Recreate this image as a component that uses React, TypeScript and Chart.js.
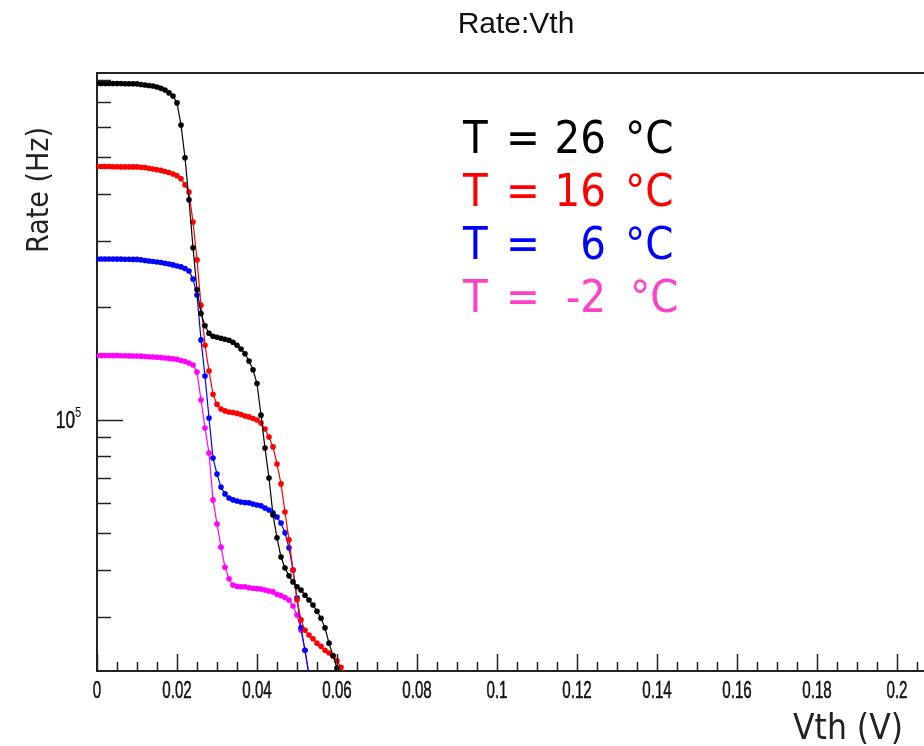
import React, { useEffect, useRef } from 'react';
import { Chart, registerables } from 'chart.js';

Chart.register(...registerables);

// Threshold voltage (V)
const vth = [
  0, 0.001, 0.002, 0.003, 0.004, 0.005, 0.006, 0.007, 0.008, 0.009,
  0.010, 0.011, 0.012, 0.013, 0.014, 0.015, 0.016, 0.017, 0.018, 0.019,
  0.020, 0.021, 0.022, 0.023, 0.024, 0.025, 0.026, 0.027, 0.028, 0.029,
  0.030, 0.031, 0.032, 0.033, 0.034, 0.035, 0.036, 0.037, 0.038, 0.039,
  0.040, 0.041, 0.042, 0.043, 0.044, 0.045, 0.046, 0.047, 0.048, 0.049,
  0.050, 0.051, 0.052, 0.053, 0.054, 0.055, 0.056, 0.057, 0.058, 0.059,
  0.060, 0.061, 0.062,
];

// Rate (Hz) at T = 26 °C
const rate26 = [
  785000, 785000, 785000, 785000, 785000, 784500, 784500, 784000, 784000, 783500,
  783000, 780000, 778000, 775000, 773000, 768000, 762000, 754000, 741000, 727000,
  697000, 609000, 498000, 385000, 287000, 222000, 192000, 178000, 170000, 167000,
  166000, 165000, 164000, 163000, 161000, 158000, 154500, 150000, 143500, 136000,
  125000, 103000, 84200, 70100, 55900, 48600, 43200, 40400, 38500, 37100,
  36000, 35300, 34200, 33200, 32200, 31000, 29700, 28000, 25500, 23600,
  21900, 20300, 19000,
];

// Rate (Hz) at T = 16 °C
const rate16 = [
  472000, 472000, 472000, 472000, 471500, 471500, 471000, 471000, 471000, 471000,
  471000, 470000, 469000, 467000, 465000, 463000, 461000, 458000, 455000, 451000,
  446000, 438000, 422000, 404000, 336000, 266500, 202000, 158000, 135000, 117000,
  110000, 107000, 105700, 105000, 104700, 104100, 103400, 102500, 101900, 100900,
  100000, 98200, 94600, 90100, 84800, 76400, 67600, 56900, 48000, 39900,
  33200, 29400, 27600, 26800, 26200, 25500, 25000, 24400, 24000, 23600,
  22900, 22000, 21200,
];

// Rate (Hz) at T = 6 °C
const rate6 = [
  268000, 268000, 268000, 268000, 268000, 267800, 267800, 267500, 267500, 267300,
  267300, 266500, 265500, 264800, 264000, 263200, 262400, 261200, 260000, 258500,
  256800, 255300, 252900, 249000, 237000, 215000, 163300, 130900, 101200, 79200,
  71800, 66300, 63600, 62000, 61300, 60900, 60500, 60300, 60200, 59800,
  59400, 59100, 58300, 57600, 56600, 55200, 53200, 50100, 45700, 39900,
  33600, 28000, 24400, 21000,
];

// Rate (Hz) at T = -2 °C
const rateM2 = [
  148400, 148400, 148400, 148400, 148300, 148300, 148200, 148200, 148100, 148000,
  148000, 147800, 147500, 147300, 147100, 146800, 146500, 146200, 145800, 145400,
  144900, 143900, 143100, 141800, 140000, 134200, 113000, 95200, 81700, 61300,
  52900, 45900, 40600, 37800, 36400, 36100, 36000, 36000, 35800, 35700,
  35600, 35500, 35300, 35100, 34900, 34400, 34100, 33700, 33200, 32000,
  30300, 27600, 24400, 21000,
];

const seriesLabels = ['T = 26 °C', 'T = 16 °C', 'T = 6 °C', 'T = -2 °C'];
const seriesTemps = ['26', '16', '6', '-2'];
const seriesColors = ['#000000', '#ff0000', '#0000ff', '#ff00ff'];
const legendColors = ['#000000', '#ff0000', '#0000ff', '#ff40c8'];

const xMin = 0;
const xMax = 0.22;
const xMinorStep = 0.005;
const xMajorStep = 0.02;
const yMin = 21500;
const yMax = 837000;
const yMinorTicks = [30000, 40000, 50000, 60000, 70000, 80000, 90000, 200000, 300000, 400000, 500000, 600000, 700000, 800000];
const yMajorTicks = [100000];

const titleText = 'Rate:Vth';
const xTitle = 'Vth (V)';
const yTitle = 'Rate (Hz)';

const isXMajor = (v: number) => Math.abs(v / xMajorStep - Math.round(v / xMajorStep)) < 1e-6;
const xLabelText = (v: number) => String(Math.round(v * 100) / 100);

const SANS = '"DejaVu Sans", Verdana, sans-serif';
const LIB = '"Liberation Sans", Arial, sans-serif';

const decorPlugin = {
  id: 'decor',
  afterDraw(chart: any) {
    const { ctx, chartArea, scales } = chart;
    const xs = scales.x;
    const ys = scales.y;
    ctx.save();
    // top frame
    ctx.strokeStyle = '#222';
    ctx.lineWidth = 2;
    ctx.beginPath();
    ctx.moveTo(chartArea.left - 1, chartArea.top);
    ctx.lineTo(chartArea.right, chartArea.top);
    ctx.stroke();

    // x tick marks (inside) and narrow labels
    ctx.lineWidth = 1.5;
    xs.ticks.forEach((t: any) => {
      const v = t.value;
      const xPix = xs.getPixelForValue(v);
      const px = Math.round(xPix) + 0.5;
      const major = isXMajor(v);
      const len = major ? 17 : 9;
      ctx.beginPath();
      ctx.moveTo(px, chartArea.bottom);
      ctx.lineTo(px, chartArea.bottom - len);
      ctx.stroke();
      if (major) {
        ctx.save();
        ctx.translate(xPix, chartArea.bottom + 27);
        ctx.scale(0.66, 1);
        ctx.fillStyle = '#111';
        ctx.strokeStyle = '#111';
        ctx.lineWidth = 0.5;
        ctx.textAlign = 'center';
        ctx.textBaseline = 'alphabetic';
        ctx.font = '23px ' + LIB;
        ctx.fillText(xLabelText(v), 0, 0);
        ctx.strokeText(xLabelText(v), 0, 0);
        ctx.restore();
      }
    });
    // y tick marks (inside)
    yMinorTicks.forEach((v) => {
      const py = Math.round(ys.getPixelForValue(v)) + 0.5;
      ctx.beginPath();
      ctx.moveTo(chartArea.left, py);
      ctx.lineTo(chartArea.left + 14, py);
      ctx.stroke();
    });
    yMajorTicks.forEach((v) => {
      const yPix = ys.getPixelForValue(v);
      const py = Math.round(yPix) + 0.5;
      ctx.beginPath();
      ctx.moveTo(chartArea.left, py);
      ctx.lineTo(chartArea.left + 26, py);
      ctx.stroke();
      // label 10^exp
      const exp = Math.round(Math.log10(v)).toString();
      ctx.fillStyle = '#111';
      ctx.strokeStyle = '#111';
      ctx.lineWidth = 0.5;
      ctx.textBaseline = 'alphabetic';
      ctx.save();
      ctx.translate(chartArea.left - 22, yPix + 8);
      ctx.scale(0.75, 1);
      ctx.textAlign = 'right';
      ctx.font = '23px ' + LIB;
      ctx.fillText('10', 0, 0);
      ctx.strokeText('10', 0, 0);
      ctx.restore();
      ctx.save();
      ctx.translate(chartArea.left - 22, yPix - 3);
      ctx.scale(0.8, 1);
      ctx.textAlign = 'left';
      ctx.font = '14px ' + LIB;
      ctx.fillText(exp, 0, 0);
      ctx.restore();
    });

    // title
    ctx.fillStyle = '#111';
    ctx.textAlign = 'center';
    ctx.textBaseline = 'alphabetic';
    ctx.font = '30px ' + LIB;
    ctx.fillText(titleText, 516, 33);

    // axis titles (slightly condensed Verdana-like face)
    ctx.fillStyle = '#222';
    ctx.save();
    ctx.translate(903, 739);
    ctx.scale(0.9, 1);
    ctx.textAlign = 'right';
    ctx.font = '35px ' + SANS;
    ctx.fillText(xTitle, 0, 0);
    ctx.restore();

    ctx.save();
    ctx.translate(48, 190);
    ctx.rotate(-Math.PI / 2);
    ctx.scale(0.9, 1);
    ctx.textAlign = 'center';
    ctx.font = '30px ' + SANS;
    ctx.fillText(yTitle, 0, 0);
    ctx.restore();

    // legend text
    const baselines = [153, 206, 259, 312];
    seriesTemps.forEach((temp, i) => {
      const y = baselines[i];
      ctx.fillStyle = legendColors[i];
      const piece = (txt: string, x: number, align: string) => {
        ctx.save();
        ctx.translate(x, y);
        ctx.scale(0.92, 1);
        ctx.textAlign = align;
        ctx.font = '44px ' + SANS;
        ctx.fillText(txt, 0, 0);
        ctx.restore();
      };
      piece('T', 463, 'left');
      piece('=', 523, 'center');
      piece(temp, 606, 'right');
      piece('°C', i === 3 ? 630 : 625, 'left');
    });
    ctx.restore();
  },
};

export default function App() {
  const canvasRef = useRef<HTMLCanvasElement | null>(null);

  useEffect(() => {
    const canvas = canvasRef.current;
    if (!canvas) return;
    const seriesValues = [rate26, rate16, rate6, rateM2];
    const datasets = seriesValues.map((vals, i) => ({
      label: seriesLabels[i],
      data: vals.map((y, k) => ({ x: vth[k], y })),
      borderColor: seriesColors[i],
      backgroundColor: seriesColors[i],
      pointBackgroundColor: seriesColors[i],
      pointBorderWidth: 0,
      pointRadius: 2.8,
      pointHoverRadius: 2.8,
      borderWidth: 1.2,
      tension: 0,
      fill: false,
    }));

    const chart = new Chart(canvas, {
      type: 'line',
      data: { datasets },
      options: {
        animation: false,
        responsive: false,
        maintainAspectRatio: false,
        devicePixelRatio: 1,
        layout: { padding: { top: 73, right: 23, left: 0, bottom: 0 } },
        plugins: {
          legend: { display: false },
          tooltip: { enabled: false },
          title: { display: false },
        },
        events: [],
        scales: {
          x: {
            type: 'linear',
            min: xMin,
            max: xMax,
            grid: { display: false, drawTicks: false },
            border: { display: true, color: '#222', width: 2 },
            ticks: {
              display: false,
              stepSize: xMinorStep,
              autoSkip: false,
              maxRotation: 0,
            },
            afterFit: (scale: any) => {
              scale.height = 75;
            },
          },
          y: {
            type: 'logarithmic',
            min: yMin,
            max: yMax,
            grid: { display: false, drawTicks: false },
            border: { display: true, color: '#222', width: 2 },
            ticks: { display: false },
            afterFit: (scale: any) => {
              scale.width = 97;
            },
          },
        },
      },
      plugins: [decorPlugin],
    });
    return () => chart.destroy();
  }, []);

  return (
    <div
      style={{
        position: 'absolute',
        left: 0,
        top: 0,
        width: 924,
        height: 746,
        overflow: 'hidden',
        background: '#ffffff',
      }}
    >
      <canvas ref={canvasRef} width={1000} height={746} style={{ display: 'block', width: 1000, height: 746 }} />
    </div>
  );
}
